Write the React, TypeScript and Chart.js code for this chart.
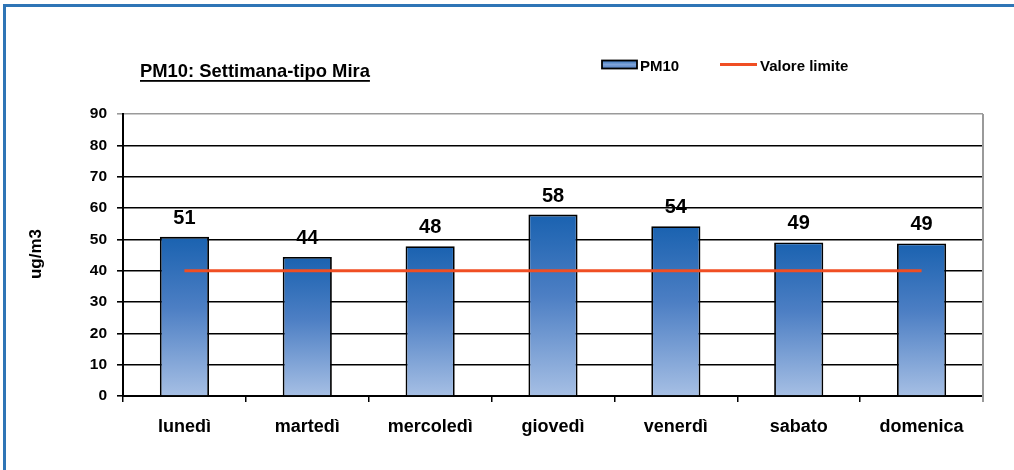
import React, { useEffect, useRef } from "react";
import { Chart, registerables } from "chart.js";

Chart.register(...registerables);

const categories = ["lunedì", "martedì", "mercoledì", "giovedì", "venerdì", "sabato", "domenica"];
const pm10Values = [50.8, 44.4, 47.8, 57.9, 54.2, 49.0, 48.7];
const limitValues = [40, 40, 40, 40, 40, 40, 40];
const yTicks = [0, 10, 20, 30, 40, 50, 60, 70, 80, 90];
const titleText = "PM10: Settimana-tipo Mira";
const yAxisTitle = "ug/m3";
const seriesNames = ["PM10", "Valore limite"];

const FONT = "'Liberation Sans', Arial, sans-serif";
const RED = "#f04e23";

function barGradient(c: CanvasRenderingContext2D, top: number, bottom: number) {
  const g = c.createLinearGradient(0, top, 0, bottom);
  g.addColorStop(0, "#1a62b0");
  g.addColorStop(0.45, "#4d7fc4");
  g.addColorStop(1, "#a6bfe4");
  return g;
}

const decorPlugin = {
  id: "decor",
  beforeDraw(chart: any) {
    const c = chart.ctx as CanvasRenderingContext2D;
    c.save();
    c.fillStyle = "#ffffff";
    c.fillRect(0, 0, chart.width, chart.height);
    c.fillStyle = "#2e75b6";
    c.fillRect(3, 4, chart.width - 3, 3);
    c.fillRect(3, 4, 3, chart.height - 4);
    c.restore();
  },
  afterDraw(chart: any) {
    const c = chart.ctx as CanvasRenderingContext2D;
    const ca = chart.chartArea;
    const ys = chart.scales.y;
    c.save();
    c.strokeStyle = "#9a9a9a";
    c.lineWidth = 2;
    c.beginPath();
    c.moveTo(ca.right, ca.top);
    c.lineTo(ca.right, ca.bottom + 6);
    c.stroke();

    // title
    c.fillStyle = "#000";
    c.font = `bold 18.4px ${FONT}`;
    c.textBaseline = "alphabetic";
    c.textAlign = "left";
    const tx = 140, ty = 77;
    c.fillText(titleText, tx, ty);
    const tw = c.measureText(titleText).width;
    c.fillRect(tx, ty + 3, tw, 1.8);

    // legend
    const sg = c.createLinearGradient(0, 60, 0, 69);
    sg.addColorStop(0, "#2a6cb5");
    sg.addColorStop(0.5, "#7fa3d8");
    sg.addColorStop(1, "#4a7cc2");
    c.fillStyle = sg;
    c.fillRect(602, 60.5, 35, 8);
    c.strokeStyle = "#000";
    c.lineWidth = 1.8;
    c.strokeRect(602, 60.5, 35, 8);
    c.fillStyle = "#000";
    c.font = `bold 15px ${FONT}`;
    c.fillText(seriesNames[0], 640, 70.5);
    c.strokeStyle = RED;
    c.lineWidth = 3;
    c.beginPath();
    c.moveTo(720, 64.5);
    c.lineTo(757, 64.5);
    c.stroke();
    c.fillText(seriesNames[1], 760, 70.5);

    // y axis title
    c.save();
    c.translate(41, 254);
    c.rotate(-Math.PI / 2);
    c.textAlign = "center";
    c.font = `bold 17px ${FONT}`;
    c.fillText(yAxisTitle, 0, 0);
    c.restore();

    // value labels
    const meta = chart.getDatasetMeta(1);
    c.font = `bold 20px ${FONT}`;
    c.textAlign = "center";
    c.fillStyle = "#000";
    meta.data.forEach((el: any, i: number) => {
      const top = ys.getPixelForValue(pm10Values[i]);
      c.fillText(String(Math.round(pm10Values[i])), el.x, top - 13);
    });
    c.restore();
  },
};

export default function App() {
  const ref = useRef<HTMLCanvasElement>(null);
  useEffect(() => {
    const canvas = ref.current!;
    const chart = new Chart(canvas, {
      type: "bar",
      data: {
        labels: categories,
        datasets: [
          {
            type: "line",
            label: seriesNames[1],
            data: limitValues,
            borderColor: RED,
            borderWidth: 3,
            pointRadius: 0,
            fill: false,
          } as any,
          {
            type: "bar",
            label: seriesNames[0],
            data: pm10Values,
            backgroundColor: (ctx: any) => {
              const chart = ctx.chart;
              const ys = chart.scales?.y;
              if (!chart.chartArea || !ys || ctx.raw == null) return "#4a7cc2";
              return barGradient(chart.ctx, ys.getPixelForValue(ctx.raw), ys.getPixelForValue(0));
            },
            borderColor: "#000",
            borderWidth: 1.8,
            barPercentage: 0.4,
            categoryPercentage: 1,
          },
        ],
      },
      plugins: [decorPlugin],
      options: {
        animation: false,
        responsive: false,
        devicePixelRatio: 1,
        layout: { padding: { top: 114, left: 0, right: 31, bottom: 0 } },
        plugins: {
          legend: { display: false },
          title: { display: false },
          tooltip: { enabled: false },
        },
        scales: {
          x: {
            afterFit: (s: any) => {
              s.height = 74;
            },
            grid: {
              drawOnChartArea: false,
              drawTicks: true,
              tickLength: 6,
              color: "#000",
              lineWidth: 1.5,
            },
            border: { display: true, color: "#000", width: 2 },
            ticks: {
              color: "#000",
              font: { family: FONT, size: 18, weight: "bold" },
              padding: 14,
              maxRotation: 0,
              autoSkip: false,
            },
          },
          y: {
            min: 0,
            max: 90,
            afterFit: (s: any) => {
              s.width = 123;
            },
            afterBuildTicks: (s: any) => {
              s.ticks = yTicks.map((v) => ({ value: v }));
            },
            grid: {
              color: (ctx: any) => (ctx.tick && ctx.tick.value === 90 ? "#9a9a9a" : "#000"),
              lineWidth: 1.6,
              tickLength: 6,
            },
            border: { display: true, color: "#000", width: 2 },
            ticks: {
              color: "#000",
              font: { family: FONT, size: 15.5, weight: "bold" },
              padding: 10,
              stepSize: 10,
            },
          },
        },
      },
    });
    return () => chart.destroy();
  }, []);
  return (
    <div style={{ position: "fixed", left: 0, top: 0, width: 1014, height: 470, background: "#fff" }}>
      <canvas ref={ref} width={1014} height={470} style={{ display: "block", width: 1014, height: 470 }} />
    </div>
  );
}
